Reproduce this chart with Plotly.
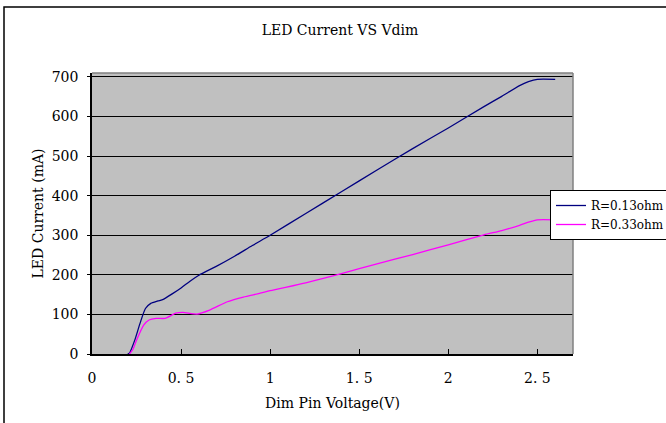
import plotly.graph_objects as go

# Data
v_013 = [0.20, 0.21, 0.24, 0.27, 0.30, 0.33, 0.37, 0.40, 0.45, 0.50, 0.55, 0.60, 0.70, 0.80, 0.90,
         1.00, 1.20, 1.40, 1.60, 1.80, 2.00, 2.20, 2.30, 2.40, 2.45, 2.50, 2.60]
i_013 = [0, 2, 35, 78, 115, 128, 134, 138, 152, 167, 184, 199, 222, 247, 274,
         300, 355, 410, 465, 519, 571, 625, 651, 678, 688, 694, 694]

v_033 = [0.21, 0.23, 0.25, 0.29, 0.32, 0.36, 0.41, 0.47, 0.51, 0.59, 0.66, 0.76, 0.85, 0.94,
         1.00, 1.20, 1.40, 1.60, 1.80, 2.00, 2.20, 2.30, 2.40, 2.45, 2.50, 2.60]
i_033 = [0, 12, 35, 73, 86, 90, 90, 103, 105, 101, 111, 132, 144, 153,
         160, 180, 203, 228, 251, 276, 301, 312, 325, 333, 339, 339]

x_tickvals = [0, 0.5, 1, 1.5, 2, 2.5]
x_ticktext = ["0", "0. 5", "1", "1. 5", "2", "2. 5"]
y_tickvals = [0, 100, 200, 300, 400, 500, 600, 700]

FONT = "DejaVu Serif"

fig = go.Figure()
fig.add_trace(go.Scatter(x=v_013, y=i_013, mode="lines", name="R=0.13ohm",
                         line=dict(color="#000080", width=1.3, shape="spline", smoothing=0.6)))
fig.add_trace(go.Scatter(x=v_033, y=i_033, mode="lines", name="R=0.33ohm",
                         line=dict(color="#FF00FF", width=1.3, shape="spline", smoothing=0.6)))

fig.update_layout(
    width=666, height=423,
    margin=dict(l=92, r=93, t=73, b=69, autoexpand=False),
    paper_bgcolor="white",
    plot_bgcolor="#C0C0C0",
    font=dict(family=FONT, size=14, color="black"),
    title=dict(text="LED Current VS Vdim", x=340/666, xref="container", xanchor="center",
               y=1 - 30/423, yref="container", yanchor="middle",
               font=dict(family=FONT, size=14, color="black")),
    xaxis=dict(range=[0, 2.7], tickvals=x_tickvals, ticktext=x_ticktext,
               showgrid=False, zeroline=False,
               showline=True, linecolor="black", linewidth=1.5, mirror=False,
               ticks="inside", ticklen=5, tickcolor="black", ticklabelstandoff=10,
               title=dict(text="Dim Pin Voltage(V)", standoff=14, font=dict(size=14))),
    yaxis=dict(range=[0, 710], tickvals=y_tickvals,
               showgrid=True, gridcolor="black", gridwidth=1.2, zeroline=False,
               showline=True, linecolor="black", linewidth=1.5,
               ticks="outside", ticklen=3, tickcolor="black", ticklabelstandoff=6,
               title=dict(text="LED Current (mA)", standoff=5, font=dict(size=14))),
    legend=dict(x=(550-92)/481, y=(354-190)/281, xanchor="left", yanchor="top",
                bgcolor="white", bordercolor="black", borderwidth=1,
                font=dict(family=FONT, size=12), tracegroupgap=0),
    showlegend=True,
)

# gray plot-area border (top and right)
fig.add_shape(type="line", xref="paper", yref="paper", x0=0, x1=1, y0=1, y1=1,
              line=dict(color="#808080", width=1.5))
fig.add_shape(type="line", xref="paper", yref="paper", x0=1, x1=1, y0=0, y1=1,
              line=dict(color="#808080", width=1.5))
# outer chart border
fig.add_shape(type="rect", xref="paper", yref="paper",
              x0=(4-92)/481, x1=1.3, y0=-0.4, y1=(354-7)/281,
              line=dict(color="black", width=1.5), layer="below")

fig.write_html("out.html", config={"displayModeBar": False},
               post_script="document.body.style.margin='0px';")
